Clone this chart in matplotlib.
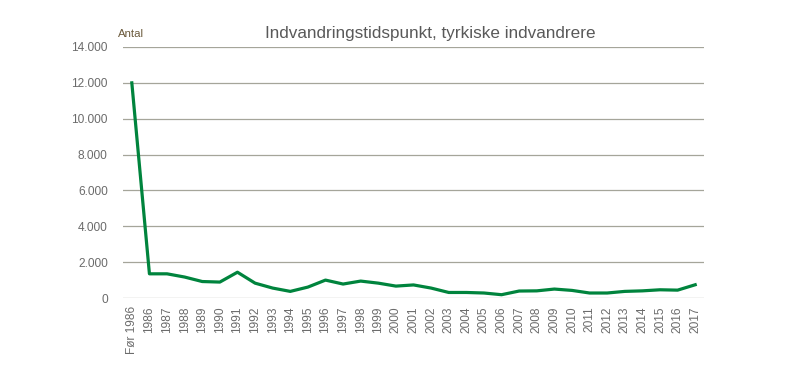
import numpy as np
import matplotlib
matplotlib.use("Agg")
import matplotlib.pyplot as plt
from matplotlib.ticker import FuncFormatter

plt.rcParams['font.family'] = ['Liberation Sans Narrow', 'Liberation Sans', 'DejaVu Sans']

labels = ["Før 1986"] + [str(y) for y in range(1986, 2018)]
values = [12000, 1350, 1350, 1170, 920, 890, 1440, 830, 555, 370, 610, 1000,
          780, 945, 830, 665, 730, 555, 310, 310, 280, 185, 390, 400, 500,
          425, 280, 280, 370, 400, 460, 440, 740]

fig = plt.figure(figsize=(8.12, 3.73), dpi=100)
ax = fig.add_axes([0.1515, 0.201, 0.7155, 0.673])

x = np.arange(len(labels))
ax.plot(x, values, color='#00843d', linewidth=2.3, solid_joinstyle='round')

ax.set_xlim(-0.5, len(labels) - 0.5)
ax.set_ylim(0, 14000)
ax.set_yticks(np.arange(0, 14001, 2000))
ax.yaxis.set_major_formatter(FuncFormatter(lambda v, p: f"{int(v):,}".replace(",", ".")))
ax.set_xticks(x)
ax.set_xticklabels(labels, rotation=90)
ax.grid(axis='y', color='#a5a59a', linewidth=0.9)
ax.set_axisbelow(True)
for s in ax.spines.values():
    s.set_visible(False)
ax.tick_params(axis='both', length=0, colors='#6b6b6b', labelsize=8.6)
ax.tick_params(axis='y', pad=11)
ax.tick_params(axis='x', pad=6)

fig.text(0.53, 0.91, "Indvandringstidspunkt, tyrkiske indvandrere", ha='center',
         va='center', fontsize=12.3, color='#595959')
fig.text(0.145, 0.91, "Antal", ha='left', va='center', fontsize=8.2, color='#6b5a3c')

fig.savefig("out.png", dpi=100)
